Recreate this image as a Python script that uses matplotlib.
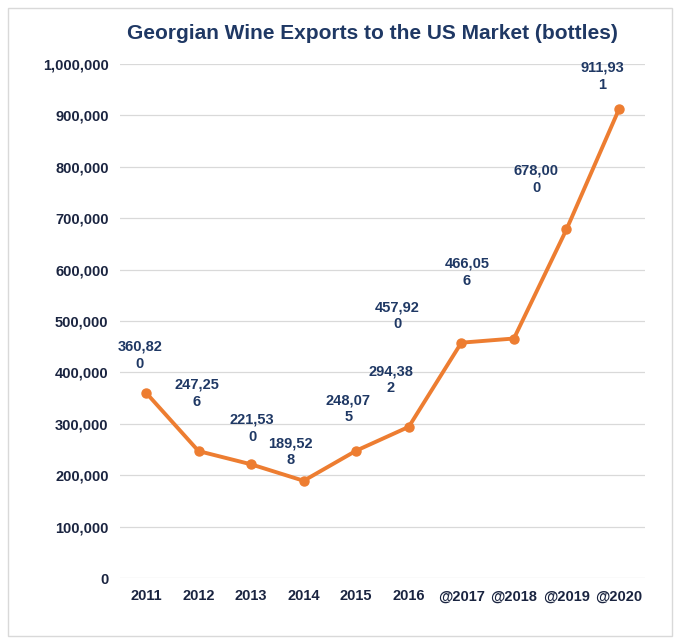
import matplotlib
matplotlib.use('Agg')
import matplotlib.pyplot as plt
from matplotlib.ticker import FuncFormatter
from matplotlib.patches import Rectangle

plt.rcParams['font.family'] = ['Liberation Sans', 'DejaVu Sans']

years = ['2011', '2012', '2013', '2014', '2015', '2016', '@2017', '@2018', '@2019', '@2020']
bottles = [360820, 247256, 221530, 189528, 248075, 294382, 457920, 466056, 678000, 911931]
# label text is wrapped the way the source chart wraps it
label_text = ['360,82\n0', '247,25\n6', '221,53\n0', '189,52\n8', '248,07\n5',
              '294,38\n2', '457,92\n0', '466,05\n6', '678,00\n0', '911,93\n1']
label_offsets = [(-6, 37), (-2, 58), (1, 36), (-13, 29), (-8, 42),
                 (-18, 47), (-64, 27), (-47, 66), (-30, 50), (-17, 33)]

navy = '#1F3864'
orange = '#ED7D31'

fig = plt.figure(figsize=(6.8, 6.44), dpi=100)
fig.patches.append(Rectangle((0.012, 0.012), 0.976, 0.976, transform=fig.transFigure,
                             fill=False, edgecolor='#d9d9d9', linewidth=1))
ax = fig.add_axes([0.176, 0.102, 0.773, 0.799])

x = range(len(years))
ax.plot(x, bottles, color=orange, linewidth=2.8, marker='o', markersize=6.5, zorder=3)

for xi, v, t, off in zip(x, bottles, label_text, label_offsets):
    ax.annotate(t, (xi, v), xytext=off, textcoords='offset pixels',
                ha='center', va='center', fontsize=10.5, fontweight='bold',
                color=navy, linespacing=1.3)

ax.set_ylim(0, 1000000)
ax.set_xlim(-0.5, len(years) - 0.5)
ax.set_yticks(range(0, 1000001, 100000))
ax.yaxis.set_major_formatter(FuncFormatter(lambda v, p: f'{int(v):,}'))
ax.set_xticks(list(x))
ax.set_xticklabels(years)
ax.grid(axis='y', color='#d9d9d9', linewidth=0.9)
ax.set_axisbelow(True)
for s in ax.spines.values():
    s.set_visible(False)
ax.tick_params(length=0, labelsize=10.5, colors=navy, pad=8)
for lbl in ax.get_xticklabels() + ax.get_yticklabels():
    lbl.set_fontweight('bold')
    lbl.set_color('#1a2440')

fig.text(0.548, 0.948, 'Georgian Wine Exports to the US Market (bottles)',
         ha='center', va='center', fontsize=15, fontweight='bold', color=navy)

fig.savefig('out.png', dpi=100)
